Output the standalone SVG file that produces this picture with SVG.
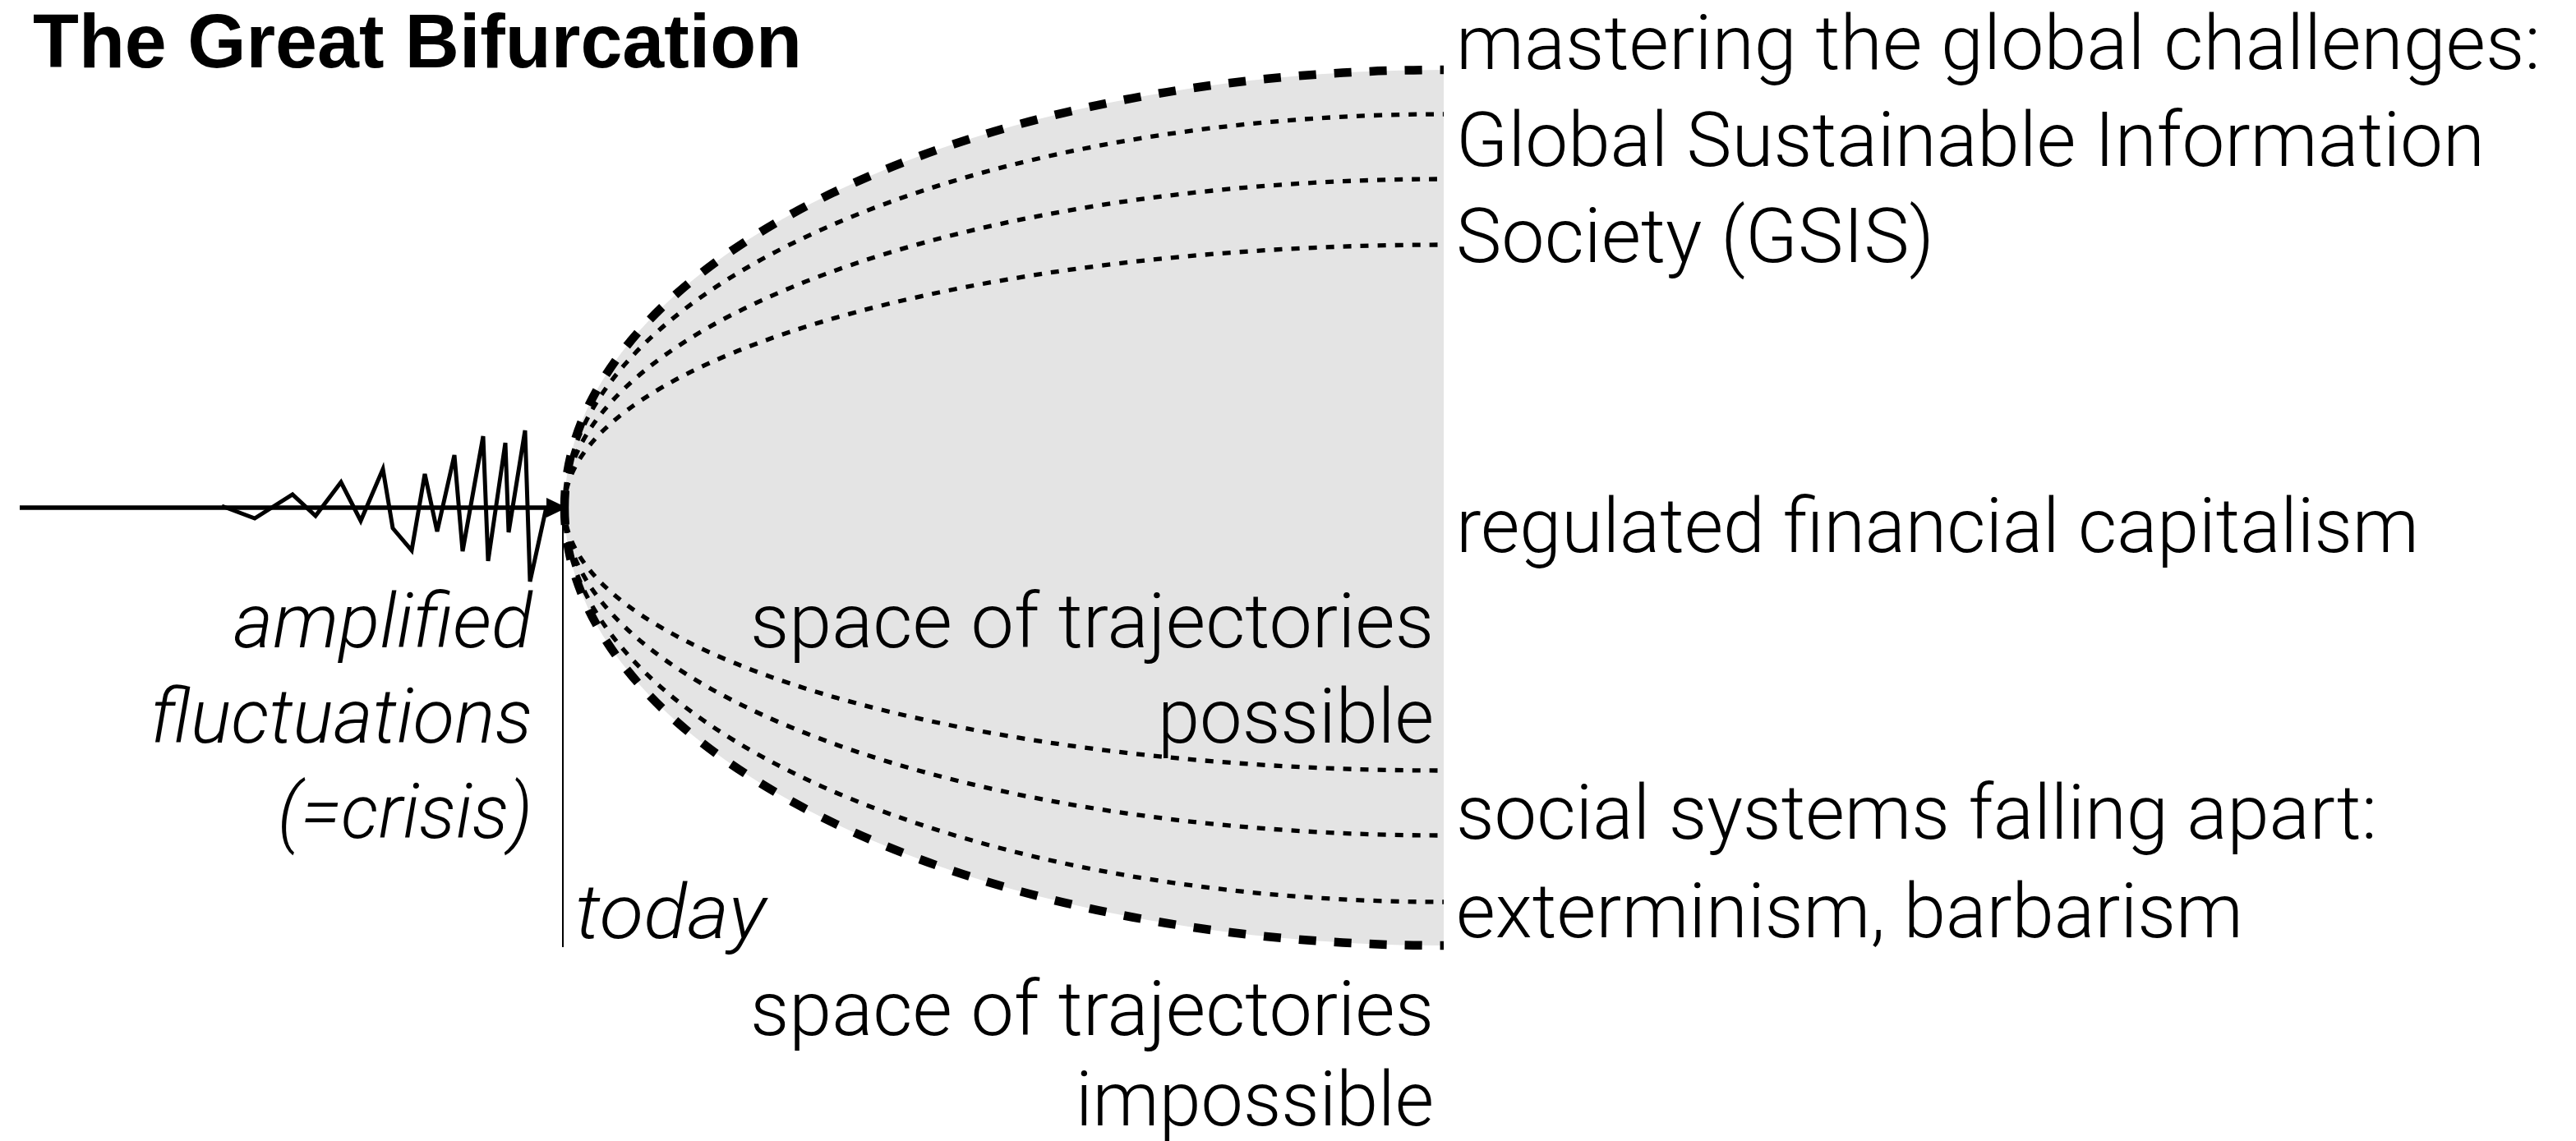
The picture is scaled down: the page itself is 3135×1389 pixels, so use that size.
<svg xmlns="http://www.w3.org/2000/svg" width="3135" height="1389" viewBox="0 0 3135 1389">
<style>
.lbl{font-family:Roboto,"Liberation Sans",Arial,sans-serif;font-weight:300;font-size:92px;fill:#000}
.it{font-style:italic}
.title{font-family:"Liberation Sans",Arial,sans-serif;font-weight:bold;font-size:92px;fill:#000}
.thick{fill:none;stroke:#000;stroke-width:10.5;stroke-dasharray:21 22}
.dot{fill:none;stroke:#000;stroke-width:5.3;stroke-dasharray:10 11}
</style>
<rect width="3135" height="1389" fill="#fff"/>
<g id="fan-area">
<path d="M687,618 A1070,533 0 0 1 1757,85 L1757,1151 A1070,533 0 0 1 687,618 Z" fill="#e4e4e4"/>
</g>
<g id="connectors">
<path class="thick" d="M687,618 A1070,533 0 0 1 1757,85"/>
<path class="dot" d="M687,618 A1070,479 0 0 1 1757,139"/>
<path class="dot" d="M687,618 A1070,400 0 0 1 1757,218"/>
<path class="dot" d="M687,618 A1070,320 0 0 1 1757,298"/>
<path class="dot" d="M687,618 A1070,320 0 0 0 1757,938"/>
<path class="dot" d="M687,618 A1070,399 0 0 0 1757,1017"/>
<path class="dot" d="M687,618 A1070,480 0 0 0 1757,1098"/>
<path class="thick" d="M687,618 A1070,533 0 0 0 1757,1151"/>
<line x1="685" y1="620" x2="685" y2="1153" stroke="#000" stroke-width="2"/>
<line x1="24" y1="618" x2="668" y2="618" stroke="#000" stroke-width="5.5"/>
<polygon points="690,618 665,606 665,630" fill="#000"/>
<polyline points="270,616 310,631 356,602 384,628 415,587 439,634 466,571 478,643 501,670 517,577 532,647 553,554 563,671 588,531 594,683 615,539 619,648 639,524 645,708 665,617" fill="none" stroke="#000" stroke-width="5" stroke-linejoin="miter"/>
</g>
<g id="title"><text class="title" x="40" y="82" textLength="936" lengthAdjust="spacingAndGlyphs">The Great Bifurcation</text></g>
<g id="outcome-gsis">
<text class="lbl" x="1772" y="84" textLength="1320" lengthAdjust="spacingAndGlyphs">mastering the global challenges:</text>
<text class="lbl" x="1772" y="202" textLength="1252" lengthAdjust="spacingAndGlyphs">Global Sustainable Information</text>
<text class="lbl" x="1772" y="319" textLength="582" lengthAdjust="spacingAndGlyphs">Society (GSIS)</text>
</g>
<g id="outcome-regulated">
<text class="lbl" x="1772" y="672" textLength="1172" lengthAdjust="spacingAndGlyphs">regulated financial capitalism</text>
</g>
<g id="outcome-collapse">
<text class="lbl" x="1772" y="1021" textLength="1121" lengthAdjust="spacingAndGlyphs">social systems falling apart:</text>
<text class="lbl" x="1772" y="1141" textLength="958" lengthAdjust="spacingAndGlyphs">exterminism, barbarism</text>
</g>
<g id="possible-label">
<text class="lbl" x="1745" y="788" text-anchor="end" textLength="832" lengthAdjust="spacingAndGlyphs">space of trajectories</text>
<text class="lbl" x="1745" y="904" text-anchor="end" textLength="336" lengthAdjust="spacingAndGlyphs">possible</text>
</g>
<g id="impossible-label">
<text class="lbl" x="1745" y="1260" text-anchor="end" textLength="832" lengthAdjust="spacingAndGlyphs">space of trajectories</text>
<text class="lbl" x="1745" y="1370" text-anchor="end" textLength="436" lengthAdjust="spacingAndGlyphs">impossible</text>
</g>
<g id="crisis-label">
<text class="lbl it" x="648" y="788" text-anchor="end" textLength="364" lengthAdjust="spacingAndGlyphs">amplified</text>
<text class="lbl it" x="648" y="904" text-anchor="end" textLength="465" lengthAdjust="spacingAndGlyphs">fluctuations</text>
<text class="lbl it" x="648" y="1020" text-anchor="end" textLength="310" lengthAdjust="spacingAndGlyphs">(=crisis)</text>
</g>
<g id="today-label">
<text class="lbl it" x="700" y="1142" textLength="232" lengthAdjust="spacingAndGlyphs">today</text>
</g>
</svg>
